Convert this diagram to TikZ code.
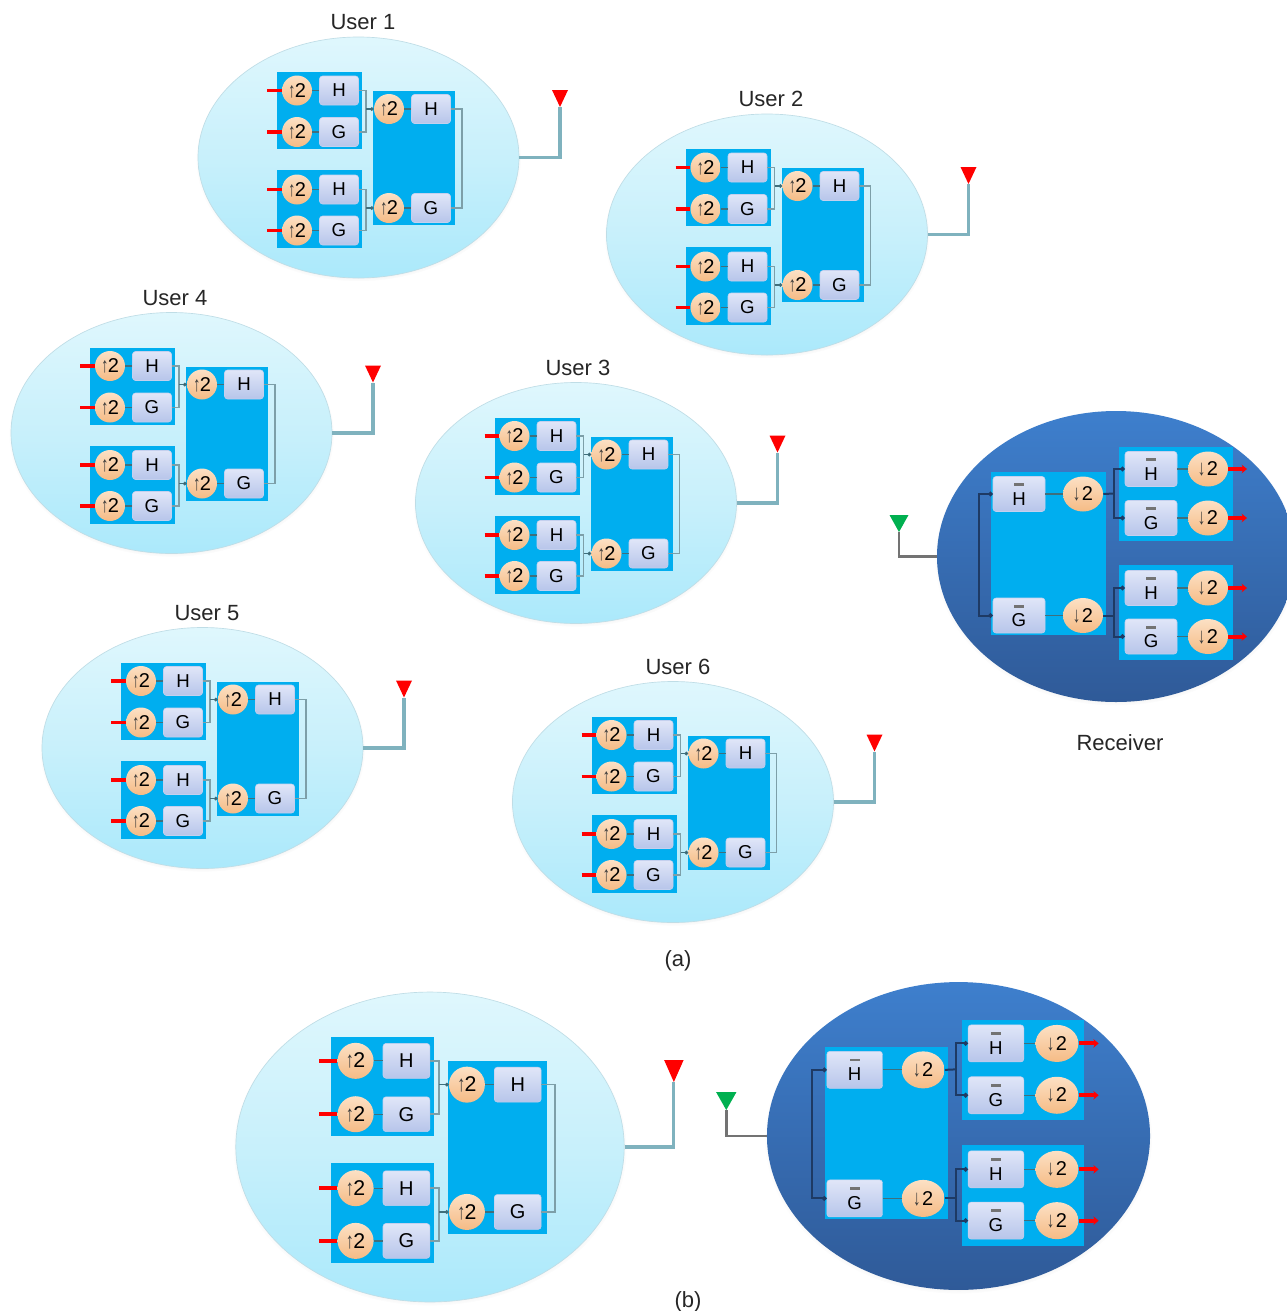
\documentclass[tikz,border=0pt]{standalone}
\usepackage{fontspec}
\setmainfont{Liberation Sans}
\usetikzlibrary{shapes.geometric,arrows.meta,shadows}
\definecolor{panelc}{HTML}{00AEEF}
\definecolor{redc}{HTML}{FF0000}
\definecolor{greenc}{HTML}{00B050}
\definecolor{connc}{HTML}{7D9FA8}
\definecolor{shortc}{HTML}{3F6F7C}
\definecolor{antc}{HTML}{7FB2BE}
\definecolor{busc}{HTML}{1E3A64}
\definecolor{arrc}{HTML}{3A3A3A}
\definecolor{D1}{HTML}{DFF7FD}\definecolor{D2}{HTML}{ABE9FB}\definecolor{D3}{HTML}{C8F0FB}\definecolor{D4}{HTML}{BFDDE6}
\definecolor{E1}{HTML}{3E7FCD}\definecolor{E2}{HTML}{2F5A98}
\definecolor{B1}{HTML}{E0E6F8}\definecolor{B2}{HTML}{B7C5EA}\definecolor{B3}{HTML}{C4D0EE}
\definecolor{C1}{HTML}{FCE0C4}\definecolor{C2}{HTML}{F5BB85}
\tikzset{
  txell/.style={ellipse,inner sep=0pt,top color=D1,bottom color=D2,middle color=D3,draw=D4,line width=.5pt,
     circular drop shadow={shadow scale=1.012,shadow xshift=0pt,shadow yshift=-1.3pt,opacity=.22,fill=black!70}},
  rxell/.style={ellipse,inner sep=0pt,top color=E1,bottom color=E2,draw=none,
     circular drop shadow={shadow scale=1.012,shadow xshift=0pt,shadow yshift=-1.3pt,opacity=.22,fill=black!70}},
  panel/.style={fill=panelc,draw=none},
  bx/.style={rectangle,rounded corners=2.2pt,inner sep=0pt,top color=B1,bottom color=B2,draw=B3,line width=.4pt},
  cir/.style={ellipse,inner sep=0pt,top color=C1,bottom color=C2,draw=none},
  conn/.style={draw=connc,line width=1.2pt},
  short/.style={draw=shortc,line width=.9pt},
  dotted link/.style={draw=shortc,line width=.9pt,-{Circle[length=2.8pt,fill=black!80]}},
  bus/.style={draw=busc,line width=1.5pt},
  busdot/.style={draw=busc,line width=1.5pt,-{Circle[length=3.4pt,fill=black!90]}},
  redin/.style={draw=redc,line width=2.8pt},
  redout/.style={draw=redc,line width=3pt,-{Stealth[length=4pt,width=6.5pt]}},
  antline/.style={draw=antc,line width=2.4pt},
  rxantline/.style={draw=black!55,line width=2pt},
  lab/.style={font=\fontsize{16.5}{20}\selectfont,text=black!85,inner sep=0pt},
}
\newcommand{\uparr}{{\color{arrc}\scalebox{.75}[1.05]{↑}}\kern-.5pt}
\newcommand{\dnarr}{{\color{arrc}\scalebox{.75}[1.1]{↓}}\kern1.2pt}
% #1 prefix, #2 #3 centre, #4 #5 x/y scale, #6 size scale, #7 box font, #8 digit font
\newcommand{\txblock}[8]{%
\begin{scope}[shift={(#2,#3)},xscale=#4,yscale=#5,
  bb/.style={bx,minimum width=#6*39*.75pt,minimum height=#6*29*.75pt,font=\fontsize{#7}{#7}\selectfont},
  cc/.style={cir,minimum width=#6*30*.75pt,minimum height=#6*30*.75pt,font=\fontsize{#8}{#8}\selectfont}]
  \node[txell,minimum width=#4*321*.75pt,minimum height=#5*241*.75pt] (#1e) at (0,0) {};
  \fill[panel] (-81.5,-85.5) rectangle (3.5,-8.5);
  \fill[panel] (-81.5,12.5) rectangle (3.5,90.5);
  \fill[panel] (14.5,-66.5) rectangle (96.5,67.5);
  \node[cc] (#1c1) at (-61.5,-67) {\uparr2};
  \node[cc] (#1c2) at (-61.5,-25.5) {\uparr2};
  \node[cc] (#1c3) at (-61.5,32) {\uparr2};
  \node[cc] (#1c4) at (-61.5,73) {\uparr2};
  \node[bb] (#1b1) at (-19.5,-67) {H};
  \node[bb] (#1b2) at (-19.5,-25.5) {G};
  \node[bb] (#1b3) at (-19.5,32) {H};
  \node[bb] (#1b4) at (-19.5,73) {G};
  \node[cc] (#1c5) at (30.5,-48.5) {\uparr2};
  \node[cc] (#1c6) at (30.5,50.5) {\uparr2};
  \node[bb] (#1b5) at (72.5,-48.5) {H};
  \node[bb] (#1b6) at (72.5,50.5) {G};
  \foreach \k in {1,...,6}{\draw[short] (#1c\k.east) -- (#1b\k.west);}
  \coordinate (#1i1) at (-91.5,-67);
  \coordinate (#1i2) at (-91.5,-25.5);
  \coordinate (#1i3) at (-91.5,32);
  \coordinate (#1i4) at (-91.5,73);
  \foreach \k in {1,...,4}{\draw[redin] (#1i\k) -- (#1c\k.west);}
  \coordinate (#1j1) at (7.5,-48.5);
  \coordinate (#1j2) at (7.5,50.5);
  \coordinate (#1o) at (103.5,0);
  \draw[conn] (#1b1.east) -| (#1j1);
  \draw[conn] (#1b2.east) -| (#1j1);
  \draw[conn] (#1b3.east) -| (#1j2);
  \draw[conn] (#1b4.east) -| (#1j2);
  \draw[dotted link] (#1j1) -- (#1c5.west);
  \draw[dotted link] (#1j2) -- (#1c6.west);
  \draw[conn] (#1b5.east) -| (#1o);
  \draw[conn] (#1b6.east) -| (#1o);
  \coordinate (#1a) at (201.5,-50.5);
  \draw[antline] (#1e.east) -| (#1a);
  \fill[redc] (#1a) -- +(-8,-17) -- +(8,-17) -- cycle;
\end{scope}}
\newcommand{\barbox}[3]{%
  \node[rb] (#1) at (#2) {\raisebox{-8.3pt}[0pt][0pt]{#3}};
  \fill[black!55] ([xshift=-3.6pt,yshift=8pt]#1.center) rectangle ++(7.2pt,-2pt);}
% #1 prefix, #2 #3 centre, #4 #5 scale
\newcommand{\rxblock}[5]{%
\begin{scope}[shift={(#2,#3)},xscale=#4,yscale=#5,
  rb/.style={bx,minimum width=#4*52*.75pt,minimum height=#5*35*.75pt,font=\fontsize{14}{14}\selectfont},
  cc/.style={cir,minimum width=#4*40*.75pt,minimum height=#5*35*.75pt,font=\fontsize{15}{15}\selectfont}]
  \node[rxell,minimum width=#4*358*.75pt,minimum height=#5*291*.75pt] (#1e) at (0,0) {};
  \fill[panel] (-125,-84.5) rectangle (-10,78.5);
  \fill[panel] (3,-109.5) rectangle (117,-15.5);
  \fill[panel] (3,8.5) rectangle (117,103.5);
  \barbox{#1b5}{-97,-62.5}{H}
  \barbox{#1b6}{-97,59}{G}
  \barbox{#1b1}{35,-87.5}{H}
  \barbox{#1b2}{35,-38.5}{G}
  \barbox{#1b3}{35,31.5}{H}
  \barbox{#1b4}{35,80}{G}
  \node[cc] (#1c5) at (-33,-62.5) {\dnarr2};
  \node[cc] (#1c6) at (-33,59) {\dnarr2};
  \node[cc] (#1c1) at (92,-87.5) {\dnarr2};
  \node[cc] (#1c2) at (92,-38.5) {\dnarr2};
  \node[cc] (#1c3) at (92,31.5) {\dnarr2};
  \node[cc] (#1c4) at (92,80) {\dnarr2};
  \foreach \k in {1,...,6}{\draw[short] (#1b\k.east) -- (#1c\k.west);}
  \coordinate (#1q1) at (131,-87.5);
  \coordinate (#1q2) at (131,-38.5);
  \coordinate (#1q3) at (131,31.5);
  \coordinate (#1q4) at (131,80);
  \foreach \k in {1,...,4}{\draw[redout] (#1c\k.east) -- (#1q\k);}
  \coordinate (#1j1) at (-2,-63);
  \coordinate (#1j2) at (-2,59);
  \coordinate (#1s) at (-137,0);
  \draw[bus] (#1c5.east) -- (#1j1);
  \draw[bus] (#1c6.east) -- (#1j2);
  \draw[busdot] (#1j1) |- (#1b1.west);
  \draw[busdot] (#1j1) |- (#1b2.west);
  \draw[busdot] (#1j2) |- (#1b3.west);
  \draw[busdot] (#1j2) |- (#1b4.west);
  \draw[busdot] (#1s) |- (#1b5.west);
  \draw[busdot] (#1s) |- (#1b6.west);
  \coordinate (#1a) at (-217,-24.5);
  \draw[rxantline] (#1e.west) -| (#1a);
  \fill[greenc] (#1a) -- +(-9.5,-17) -- +(9.5,-17) -- cycle;
\end{scope}}
\begin{document}
\begin{tikzpicture}[x=.75pt,y=-.75pt]
  \clip (0,0) rectangle (1287,1311);
  \fill[white] (0,0) rectangle (1287,1311);
  \txblock{ua}{358.5}{157.5}{1}{1}{1}{14}{15}
  \txblock{ub}{767}{234.5}{1}{1}{1}{14}{15}
  \txblock{ud}{171.5}{433}{1}{1}{1}{14}{15}
  \txblock{uc}{576}{503}{1}{1}{1}{14}{15}
  \txblock{ue}{202.5}{748}{1}{1}{1}{14}{15}
  \txblock{uf}{673}{802}{1}{1}{1}{14}{15}
  \txblock{tb}{430}{1147}{1.21}{1.286}{1.2}{15}{16}
  \rxblock{ra}{1116}{556.5}{1}{1}
  \rxblock{rb}{958.5}{1136}{1.07}{1.058}
  \node[lab] (l1) at (363,22) {User 1};
  \node[lab] (l2) at (771,99) {User 2};
  \node[lab] (l4) at (175,298) {User 4};
  \node[lab] (l3) at (578,368) {User 3};
  \node[lab] (l5) at (207,613) {User 5};
  \node[lab] (l6) at (678,667) {User 6};
  \node[lab] (lr) at (1120,743) {Receiver};
  \node[lab] (la) at (678,961) {(a)};
  \node[lab] (lb) at (688,1302) {(b)};
\end{tikzpicture}
\end{document}
